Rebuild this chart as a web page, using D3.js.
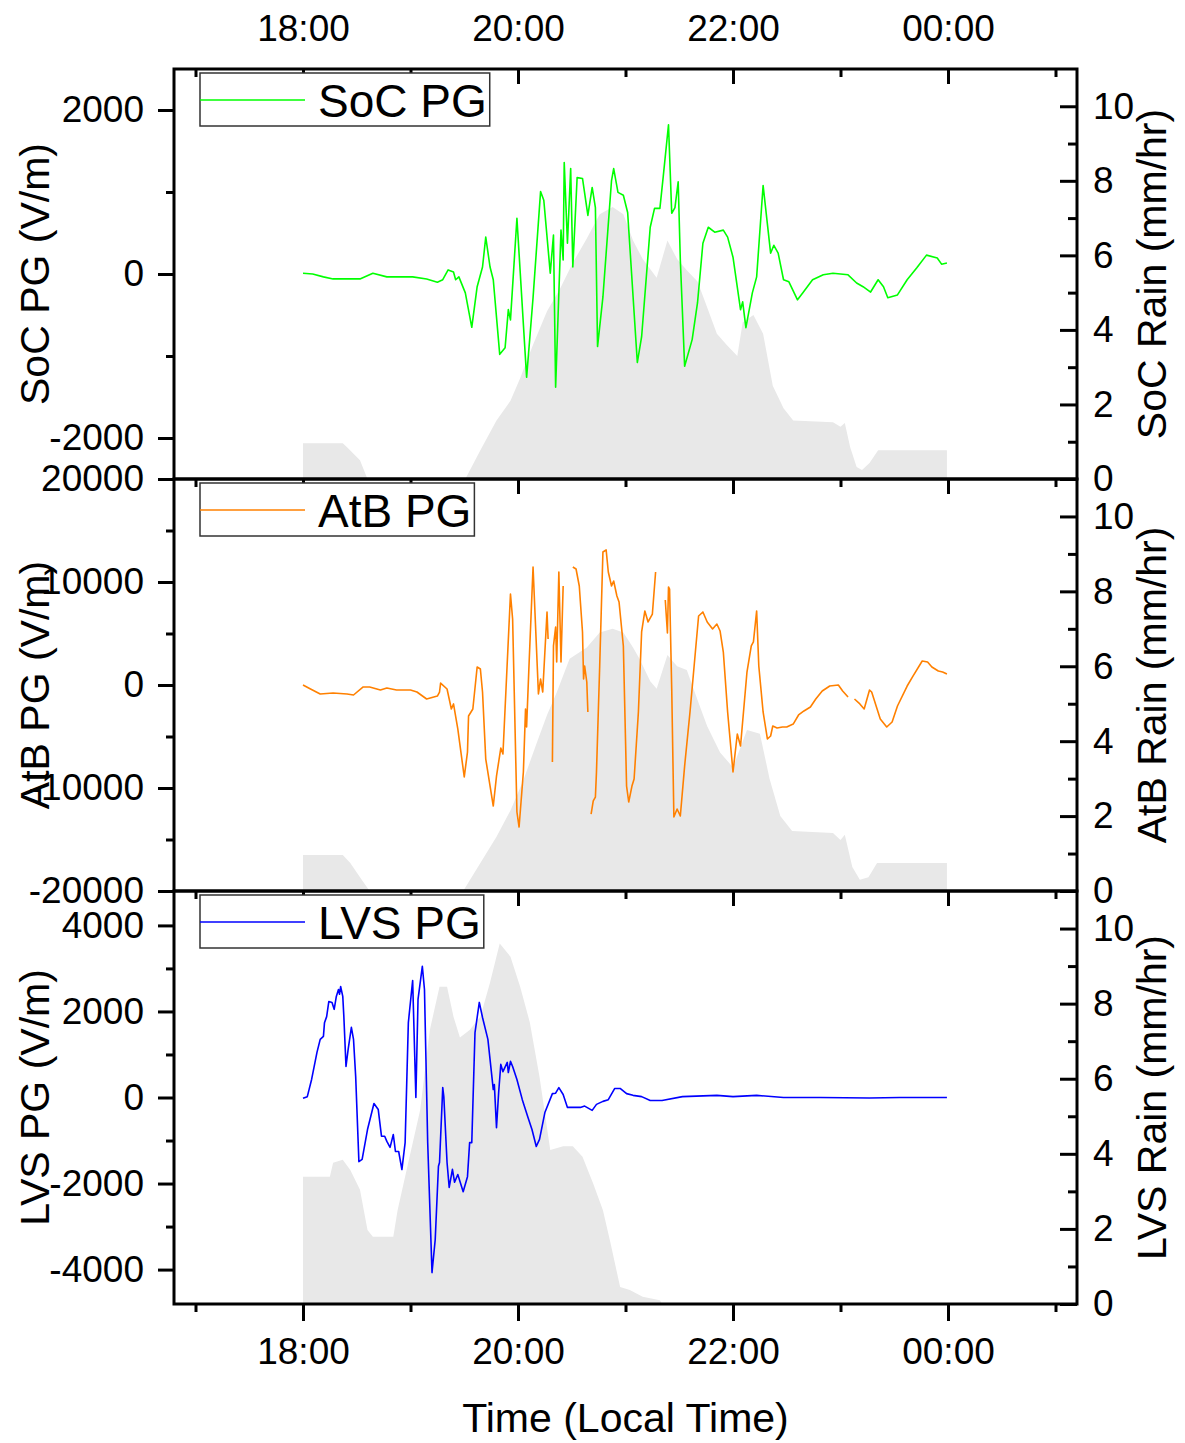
<!DOCTYPE html>
<html><head><meta charset="utf-8">
<script src="https://cdn.jsdelivr.net/npm/d3@7"></script>
<style>body{margin:0;background:#fff}</style>
</head><body>
<svg id="c" width="1185" height="1443" xmlns="http://www.w3.org/2000/svg"></svg>
<script>
// ---------- data ----------
const xTickValues = [18, 20, 22, 24];
const xTickLabels = ["18:00", "20:00", "22:00", "00:00"];
const xMinorTicks = [17, 19, 21, 23, 25];

const socYTicks = [-2000, 0, 2000];
const socYMinor = [-1000, 1000];
const atbYTicks = [-20000, -10000, 0, 10000, 20000];
const atbYMinor = [-15000, -5000, 5000, 15000];
const lvsYTicks = [-4000, -2000, 0, 2000, 4000];
const lvsYMinor = [-3000, -1000, 1000, 3000];
const rainTicks = [0, 2, 4, 6, 8, 10];
const rainMinor = [1, 3, 5, 7, 9];

const socHours = [18.00,18.09,18.19,18.28,18.41,18.53,18.65,18.78,19.02,19.15,19.25,19.30,19.35,19.40,19.42,19.45,19.51,19.57,19.62,19.67,19.70,19.74,19.77,19.83,19.88,19.91,19.93,19.99,20.08,20.14,20.21,20.24,20.30,20.33,20.35,20.40,20.42,20.43,20.46,20.49,20.51,20.55,20.60,20.65,20.69,20.72,20.74,20.79,20.87,20.89,20.93,20.98,21.02,21.11,21.15,21.23,21.27,21.32,21.35,21.40,21.43,21.46,21.49,21.51,21.55,21.62,21.67,21.72,21.77,21.83,21.91,21.95,22.00,22.07,22.09,22.12,22.18,22.22,22.28,22.35,22.38,22.42,22.47,22.52,22.60,22.65,22.74,22.84,22.93,23.07,23.15,23.21,23.28,23.35,23.40,23.44,23.53,23.62,23.71,23.80,23.90,23.94,23.99];
const socPG = [10,0,-35,-60,-60,-60,10,-35,-35,-60,-100,-70,50,25,-70,-35,-230,-650,-155,85,450,85,-70,-980,-900,-435,-560,680,-1260,-290,1005,900,10,475,-1380,535,170,1360,375,1285,85,1175,1165,715,1055,810,-885,-280,1140,1285,995,960,750,-1080,-765,570,800,800,1175,1820,740,810,1125,170,-1125,-800,-350,375,570,510,535,450,205,-435,-340,-655,-230,-35,1080,255,350,255,-70,-95,-315,-230,-70,-10,10,-10,-110,-155,-220,-70,-155,-290,-255,-70,75,230,195,120,135];

const atbHours = [18.00,18.07,18.16,18.28,18.41,18.47,18.56,18.62,18.72,18.78,18.87,19.00,19.06,19.15,19.25,19.27,19.28,19.34,19.36,19.38,19.40,19.44,19.50,19.53,19.54,19.58,19.62,19.65,19.67,19.70,19.77,19.80,19.84,19.86,19.93,19.95,19.99,20.01,20.05,20.07,20.08,20.10,20.14,20.19,20.21,20.23,20.27,20.28,20.30,20.32,20.33,20.35,20.36,20.38,20.40,20.42,20.47,20.51,20.54,20.57,20.60,20.61,20.62,20.64,20.65,20.665,20.68,20.70,20.72,20.73,20.76,20.79,20.82,20.84,20.87,20.89,20.92,20.94,20.98,21.01,21.03,21.06,21.08,21.12,21.15,21.18,21.21,21.25,21.28,21.32,21.37,21.39,21.40,21.41,21.43,21.45,21.48,21.51,21.55,21.60,21.65,21.68,21.72,21.76,21.81,21.85,21.88,21.91,21.95,22.00,22.04,22.07,22.13,22.17,22.19,22.22,22.24,22.28,22.32,22.35,22.37,22.41,22.46,22.50,22.56,22.61,22.66,22.72,22.77,22.83,22.90,22.98,23.02,23.07,23.10,23.13,23.18,23.22,23.27,23.29,23.37,23.43,23.48,23.53,23.62,23.67,23.76,23.81,23.85,23.91,23.95,23.99];
const atbPG = [0,-390,-870,-780,-870,-970,-190,-190,-490,-290,-490,-490,-680,-1360,-1070,-680,190,-390,-1360,-2330,-1840,-4270,-8930,-6510,-3010,-2330,1750,1550,-680,-7190,-11750,-8840,-6120,-6700,8840,6410,-12330,-13790,-8450,-2330,-4080,1260,11460,-870,580,-680,7090,4470,null,-7480,3790,5630,2230,10970,2230,9610,null,11460,11260,9610,5150,580,1840,290,-2620,null,-12530,-11260,-10880,-8450,1840,12910,13110,10970,9610,10100,8640,8060,3790,-9810,-11360,-9810,-9130,-2620,5150,7190,6120,6890,10970,null,8250,5050,9520,9320,-390,-12820,-12040,-12720,-7870,-2620,3200,6700,7090,6120,5440,5920,5240,3200,-2620,-8450,-4760,-5920,1260,3790,4180,7190,1840,-2620,-5240,-4950,-3980,-4180,-4080,-4080,-3790,-2910,-2520,-2140,-1360,-580,-100,0,-580,-1170,null,-1360,-1840,-2330,-490,-680,-3300,-4080,-3590,-2040,-100,780,2330,2230,1750,1360,1260,1070];

const lvsHours = [18.00,18.04,18.08,18.13,18.16,18.19,18.20,18.22,18.24,18.27,18.29,18.31,18.33,18.34,18.35,18.37,18.38,18.40,18.42,18.45,18.47,18.49,18.52,18.55,18.60,18.66,18.70,18.73,18.76,18.78,18.81,18.84,18.86,18.89,18.92,18.95,18.98,19.02,19.05,19.07,19.11,19.13,19.16,19.20,19.23,19.26,19.27,19.30,19.31,19.34,19.36,19.39,19.41,19.44,19.49,19.53,19.55,19.57,19.60,19.64,19.67,19.72,19.77,19.78,19.80,19.82,19.84,19.86,19.90,19.91,19.93,19.95,19.99,20.04,20.09,20.13,20.17,20.20,20.25,20.32,20.35,20.38,20.42,20.46,20.51,20.58,20.62,20.69,20.73,20.79,20.84,20.90,20.95,21.01,21.07,21.15,21.23,21.34,21.53,21.85,22.00,22.22,22.47,22.81,23.27,23.55,23.99];
const lvsPG = [-20,20,420,1050,1350,1420,1740,1880,2230,2210,2050,2350,2510,2400,2580,2350,1880,720,1120,1630,1350,490,-1490,-1440,-745,-140,-280,-900,-900,-1020,-1160,-860,-1255,-1255,-1675,-1050,1740,2720,0,2280,3050,2510,-1050,-4070,-3300,-1600,-1510,230,20,-1510,-2090,-1670,-1970,-1790,-2190,-1840,-1050,-1050,1510,2210,1860,1350,185,300,-700,115,770,600,815,580,840,720,420,-50,-440,-745,-1140,-975,-350,90,100,230,70,-230,-230,-230,-200,-300,-160,-90,-50,210,210,90,50,20,-70,-70,20,50,20,50,0,0,-10,0,0];

const socRainHours = [18.00,18.37,18.41,18.53,18.60,19.51,19.65,19.80,19.93,20.02,20.14,20.27,20.39,20.51,20.64,20.76,20.88,20.98,21.07,21.16,21.29,21.39,21.48,21.57,21.67,21.76,21.85,21.94,22.04,22.09,22.19,22.28,22.37,22.47,22.56,22.93,23.00,23.04,23.09,23.15,23.20,23.27,23.35,23.99];
const socRain = [0.96,0.96,0.85,0.5,0,0,0.77,1.57,2.1,2.7,3.6,4.5,5.1,5.8,6.45,7.1,7.3,7.1,6.4,5.9,5.4,6.4,5.9,5.6,5.3,4.6,3.9,3.6,3.3,4.2,4.4,3.9,2.5,1.9,1.57,1.52,1.4,1.5,0.85,0.32,0.24,0.43,0.77,0.77];

const atbRainHours = [18.00,18.37,18.44,18.53,18.62,19.49,19.65,19.80,19.93,20.05,20.18,20.27,20.36,20.48,20.64,20.76,20.88,20.98,21.07,21.13,21.23,21.29,21.39,21.48,21.57,21.67,21.76,21.88,22.00,22.13,22.25,22.34,22.44,22.55,22.93,23.00,23.04,23.11,23.18,23.26,23.34,23.99];
const atbRain = [0.96,0.96,0.75,0.37,0,0,0.75,1.45,2.15,2.96,4.0,4.7,5.3,6.2,6.5,6.9,7.0,6.9,6.5,6.2,5.6,5.4,6.3,6.0,5.9,5.1,4.4,3.7,3.3,4.3,4.2,3.0,2.0,1.6,1.55,1.36,1.5,0.64,0.3,0.37,0.75,0.75];

const lvsRainHours = [18.00,18.25,18.28,18.37,18.44,18.53,18.60,18.65,18.84,18.88,18.97,19.09,19.18,19.27,19.34,19.40,19.46,19.55,19.65,19.74,19.83,19.93,20.02,20.11,20.20,20.30,20.42,20.51,20.60,20.70,20.79,20.86,20.95,21.04,21.16,21.32,21.34];
const lvsRain = [3.39,3.39,3.76,3.84,3.57,3.04,1.97,1.79,1.79,2.5,3.65,5.17,7.3,8.45,8.45,7.65,7.1,7.3,7.65,8.56,9.6,9.25,8.45,7.5,6.05,4.1,4.2,4.2,3.92,3.2,2.5,1.63,0.45,0.37,0.19,0.1,0];

const seriesNames = ["SoC", "AtB", "LVS"];
const seriesColors = ["#00ff00", "#ff8000", "#0000ff"];

// ---------- layout ----------
const FONT = "'Liberation Sans', Arial, sans-serif";
const X0 = 174, X1 = 1077;
const x = d3.scaleLinear().domain([16.8, 25.2]).range([X0, X1]);
const svg = d3.select("#c");

const zip = (a, b) => a.map((h, i) => ({h, v: b[i]}));

const panels = [
  {name: "SoC", top: 69, bottom: 479, dom: [-2500, 2500], ticks: socYTicks, minor: socYMinor,
   pg: zip(socHours, socPG), rain: zip(socRainHours, socRain)},
  {name: "AtB", top: 479, bottom: 891, dom: [-20000, 20000], ticks: atbYTicks, minor: atbYMinor,
   pg: zip(atbHours, atbPG), rain: zip(atbRainHours, atbRain)},
  {name: "LVS", top: 891, bottom: 1304, dom: [-4800, 4800], ticks: lvsYTicks, minor: lvsYMinor,
   pg: zip(lvsHours, lvsPG), rain: zip(lvsRainHours, lvsRain)}
];

function styleAxis(g, size) {
  g.select(".domain").remove();
  g.selectAll(".tick line").attr("stroke", "#000").attr("stroke-width", 3);
  g.selectAll("text").attr("font-family", FONT).attr("font-size", size).attr("fill", "#000");
}

panels.forEach((p, i) => {
  const y = d3.scaleLinear().domain(p.dom).range([p.bottom, p.top]);
  const yR = d3.scaleLinear().domain([0, 11]).range([p.bottom, p.top]);
  const color = seriesColors[i];

  svg.append("clipPath").attr("id", "clip" + i)
    .append("rect").attr("x", X0).attr("y", p.top).attr("width", X1 - X0).attr("height", p.bottom - p.top);
  const g = svg.append("g").attr("clip-path", `url(#clip${i})`);

  // rain area
  g.append("path").datum(p.rain)
    .attr("d", d3.area().x(d => x(d.h)).y0(yR(0)).y1(d => yR(d.v)))
    .attr("fill", "#e8e8e8");

  // PG line
  g.append("path").datum(p.pg)
    .attr("d", d3.line().defined(d => d.v !== null).x(d => x(d.h)).y(d => y(d.v)))
    .attr("fill", "none").attr("stroke", color).attr("stroke-width", 1.6).attr("stroke-linejoin", "round");

  // left axis
  const la = svg.append("g").attr("transform", `translate(${X0},0)`)
    .call(d3.axisLeft(y).tickValues(p.ticks).tickSize(16).tickPadding(14).tickSizeOuter(0).tickFormat(d => String(d)));
  styleAxis(la, 37);
  const lm = svg.append("g").attr("transform", `translate(${X0},0)`)
    .call(d3.axisLeft(y).tickValues(p.minor).tickSize(8).tickSizeOuter(0).tickFormat(""));
  styleAxis(lm, 37);

  // right axis (inward ticks)
  const ra = svg.append("g").attr("transform", `translate(${X1},0)`)
    .call(d3.axisRight(yR).tickValues(rainTicks).tickSize(-17).tickPadding(16).tickSizeOuter(0));
  styleAxis(ra, 37);
  const rm = svg.append("g").attr("transform", `translate(${X1},0)`)
    .call(d3.axisRight(yR).tickValues(rainMinor).tickSize(-9).tickSizeOuter(0).tickFormat(""));
  styleAxis(rm, 37);

  // top axis (inward ticks)
  const ta = svg.append("g").attr("transform", `translate(0,${p.top})`)
    .call(d3.axisTop(x).tickValues(xTickValues).tickSize(-15).tickPadding(28).tickSizeOuter(0)
      .tickFormat((d, k) => i === 0 ? xTickLabels[k] : ""));
  styleAxis(ta, 37);
  const tm = svg.append("g").attr("transform", `translate(0,${p.top})`)
    .call(d3.axisTop(x).tickValues(xMinorTicks).tickSize(-8).tickSizeOuter(0).tickFormat(""));
  styleAxis(tm, 37);

  if (i === 2) {
    const ba = svg.append("g").attr("transform", `translate(0,${p.bottom})`)
      .call(d3.axisBottom(x).tickValues(xTickValues).tickSize(17).tickPadding(17).tickSizeOuter(0)
        .tickFormat((d, k) => xTickLabels[k]));
    styleAxis(ba, 37);
    const bm = svg.append("g").attr("transform", `translate(0,${p.bottom})`)
      .call(d3.axisBottom(x).tickValues(xMinorTicks).tickSize(8).tickSizeOuter(0).tickFormat(""));
    styleAxis(bm, 37);
  }

  // frame
  svg.append("rect").attr("x", X0).attr("y", p.top).attr("width", X1 - X0).attr("height", p.bottom - p.top)
    .attr("fill", "none").attr("stroke", "#000").attr("stroke-width", 3);

  // legend
  const lg = svg.append("g");
  const box = lg.append("rect").attr("x", 200).attr("y", p.top + 4).attr("height", 53)
    .attr("fill", "#fff").attr("stroke", "#333").attr("stroke-width", 1.5);
  lg.append("line").attr("x1", 200).attr("x2", 305).attr("y1", p.top + 31).attr("y2", p.top + 31)
    .attr("stroke", color).attr("stroke-width", 1.6);
  const lt = lg.append("text").attr("x", 318).attr("y", p.top + 48)
    .attr("font-family", FONT).attr("font-size", 46).text(seriesNames[i] + " PG");
  box.attr("width", 118 + lt.node().getComputedTextLength() + 3);

  // axis titles
  const cy = (p.top + p.bottom) / 2;
  svg.append("text").attr("transform", `translate(49,${cy}) rotate(-90)`)
    .attr("text-anchor", "middle").attr("font-family", FONT).attr("font-size", 41)
    .text(seriesNames[i] + " PG (V/m)");
  svg.append("text").attr("transform", `translate(1166,${cy}) rotate(-90)`)
    .attr("text-anchor", "middle").attr("font-family", FONT).attr("font-size", 41)
    .text(seriesNames[i] + " Rain (mm/hr)");
});

svg.append("text").attr("x", (X0 + X1) / 2).attr("y", 1432).attr("text-anchor", "middle")
  .attr("font-family", FONT).attr("font-size", 41).text("Time (Local Time)");
</script>
</body></html>
